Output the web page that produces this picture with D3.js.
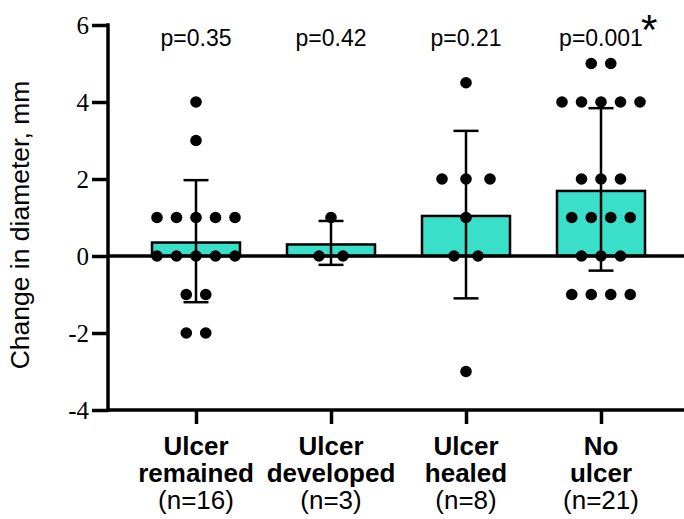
<!DOCTYPE html>
<html>
<head>
<meta charset="utf-8">
<script src="https://cdn.jsdelivr.net/npm/d3@7/dist/d3.min.js"></script>
<style>
  body { margin: 0; background: #fff; }
  svg { display: block; }
</style>
</head>
<body>
<svg width="684" height="519"></svg>
<script>
// categories (two bold lines + sample size)
const groups = ['remained', 'developed', 'healed', 'noulcer'];
const labelTop = ['Ulcer', 'Ulcer', 'Ulcer', 'No'];
const labelMid = ['remained', 'developed', 'healed', 'ulcer'];
const labelN = ['(n=16)', '(n=3)', '(n=8)', '(n=21)'];

// bar means and error bar ends
const means = [0.35, 0.3, 1.04, 1.69];
const errHigh = [1.97, 0.91, 3.25, 3.84];
const errLow = [-1.2, -0.23, -1.1, -0.38];

// individual points per group
const points = [
    [4, 3, 1, 1, 1, 1, 1, 0, 0, 0, 0, 0, -1, -1, -2, -2],
    [1, 0, 0],
    [4.5, 2, 2, 2, 1, 0, 0, -3],
    [5, 5, 4, 4, 4, 4, 4, 2, 2, 2, 1, 1, 1, 1, 0, 0, 0, -1, -1, -1, -1]
];

const pValues = ['p=0.35', 'p=0.42', 'p=0.21', 'p=0.001'];
const yTicks = [-4, -2, 0, 2, 4, 6];

const sans = "'Liberation Sans', Arial, sans-serif";
const serif = "'Liberation Serif', 'Times New Roman', serif";

const svg = d3.select('svg');
const width = +svg.attr('width');
const height = +svg.attr('height');

const axisX = 108;
const yScale = d3.scaleLinear().domain([-4, 6]).range([410, 25]);
const xScale = d3.scalePoint().domain(groups).range([196, 601]);

const barWidth = 88;
const capWidth = 25;
const dotR = 5.8;
const dotGap = [19.5, 24, 24, 19.5];
const barColor = '#3adfca';

// bars
svg.selectAll('rect.bar').data(groups)
    .enter().append('rect')
        .attr('class', 'bar')
        .attr('x', d => xScale(d) - barWidth / 2)
        .attr('y', (d, i) => yScale(means[i]))
        .attr('width', barWidth)
        .attr('height', (d, i) => yScale(0) - yScale(means[i]))
        .attr('fill', barColor)
        .attr('stroke', '#000')
        .attr('stroke-width', 2.5);

// zero line
svg.append('line')
    .attr('x1', axisX).attr('x2', width)
    .attr('y1', yScale(0)).attr('y2', yScale(0))
    .attr('stroke', '#000').attr('stroke-width', 3.5);

// error bars
const err = svg.append('g').attr('stroke', '#000').attr('stroke-width', 2.5);
groups.forEach((g, i) => {
    const cx = xScale(g);
    err.append('line')
        .attr('x1', cx).attr('x2', cx)
        .attr('y1', yScale(errHigh[i])).attr('y2', yScale(errLow[i]));
    [errHigh[i], errLow[i]].forEach(v => {
        err.append('line')
            .attr('x1', cx - capWidth / 2).attr('x2', cx + capWidth / 2)
            .attr('y1', yScale(v)).attr('y2', yScale(v));
    });
});

// dots, spread sideways where values repeat
groups.forEach((g, i) => {
    const counts = d3.rollup(points[i], v => v.length, d => d);
    const seen = new Map();
    const placed = points[i].map(v => {
        const k = seen.get(v) || 0;
        seen.set(v, k + 1);
        const n = counts.get(v);
        return { v, dx: (k - (n - 1) / 2) * dotGap[i] };
    });
    svg.selectAll(null).data(placed)
        .enter().append('circle')
            .attr('cx', d => xScale(g) + d.dx)
            .attr('cy', d => yScale(d.v))
            .attr('r', dotR)
            .attr('fill', '#000');
});

// y axis
const yAxisG = svg.append('g')
    .attr('transform', `translate(${axisX},0)`)
    .call(d3.axisLeft(yScale).tickValues(yTicks).tickSize(16).tickPadding(3)
        .tickSizeOuter(0).tickFormat(d => String(d)));
yAxisG.select('.domain').remove();
yAxisG.selectAll('.tick line').attr('stroke-width', 3.5);
yAxisG.selectAll('.tick text')
    .attr('fill', '#000')
    .attr('dy', '0.34em')
    .style('font-family', serif)
    .style('font-size', '25px');
svg.append('line')
    .attr('x1', axisX).attr('x2', axisX)
    .attr('y1', yScale(6) - 1.75).attr('y2', yScale(-4) + 1.75)
    .attr('stroke', '#000').attr('stroke-width', 3.5);

// x axis
const xAxisG = svg.append('g')
    .attr('transform', `translate(0,${yScale(-4)})`)
    .call(d3.axisBottom(xScale).tickSize(14).tickFormat(''));
xAxisG.select('.domain').remove();
xAxisG.selectAll('.tick line').attr('stroke-width', 3.5);
svg.append('line')
    .attr('x1', axisX).attr('x2', width)
    .attr('y1', yScale(-4)).attr('y2', yScale(-4))
    .attr('stroke', '#000').attr('stroke-width', 3.5);

// category labels
const lab = svg.append('g')
    .style('font-family', sans)
    .style('font-size', '26px')
    .attr('text-anchor', 'middle');
groups.forEach((g, i) => {
    const t = lab.append('text').attr('x', xScale(g));
    t.append('tspan').attr('x', xScale(g)).attr('y', 455).attr('font-weight', 'bold').text(labelTop[i]);
    t.append('tspan').attr('x', xScale(g)).attr('y', 482).attr('font-weight', 'bold').text(labelMid[i]);
    t.append('tspan').attr('x', xScale(g)).attr('y', 509).text(labelN[i]);
});

// p values
svg.selectAll('text.p-label').data(groups)
    .enter().append('text')
        .attr('class', 'p-label')
        .attr('x', d => xScale(d))
        .attr('y', 46)
        .attr('text-anchor', 'middle')
        .style('font-family', sans)
        .style('font-size', '23px')
        .text((d, i) => pValues[i]);

svg.append('text')
    .attr('x', 641).attr('y', 44)
    .style('font-family', sans)
    .style('font-size', '42px')
    .text('*');

// y title
svg.append('text')
    .attr('transform', 'translate(29,225) rotate(-90)')
    .attr('text-anchor', 'middle')
    .style('font-family', sans)
    .style('font-size', '26.5px')
    .text('Change in diameter, mm');
</script>
</body>
</html>
